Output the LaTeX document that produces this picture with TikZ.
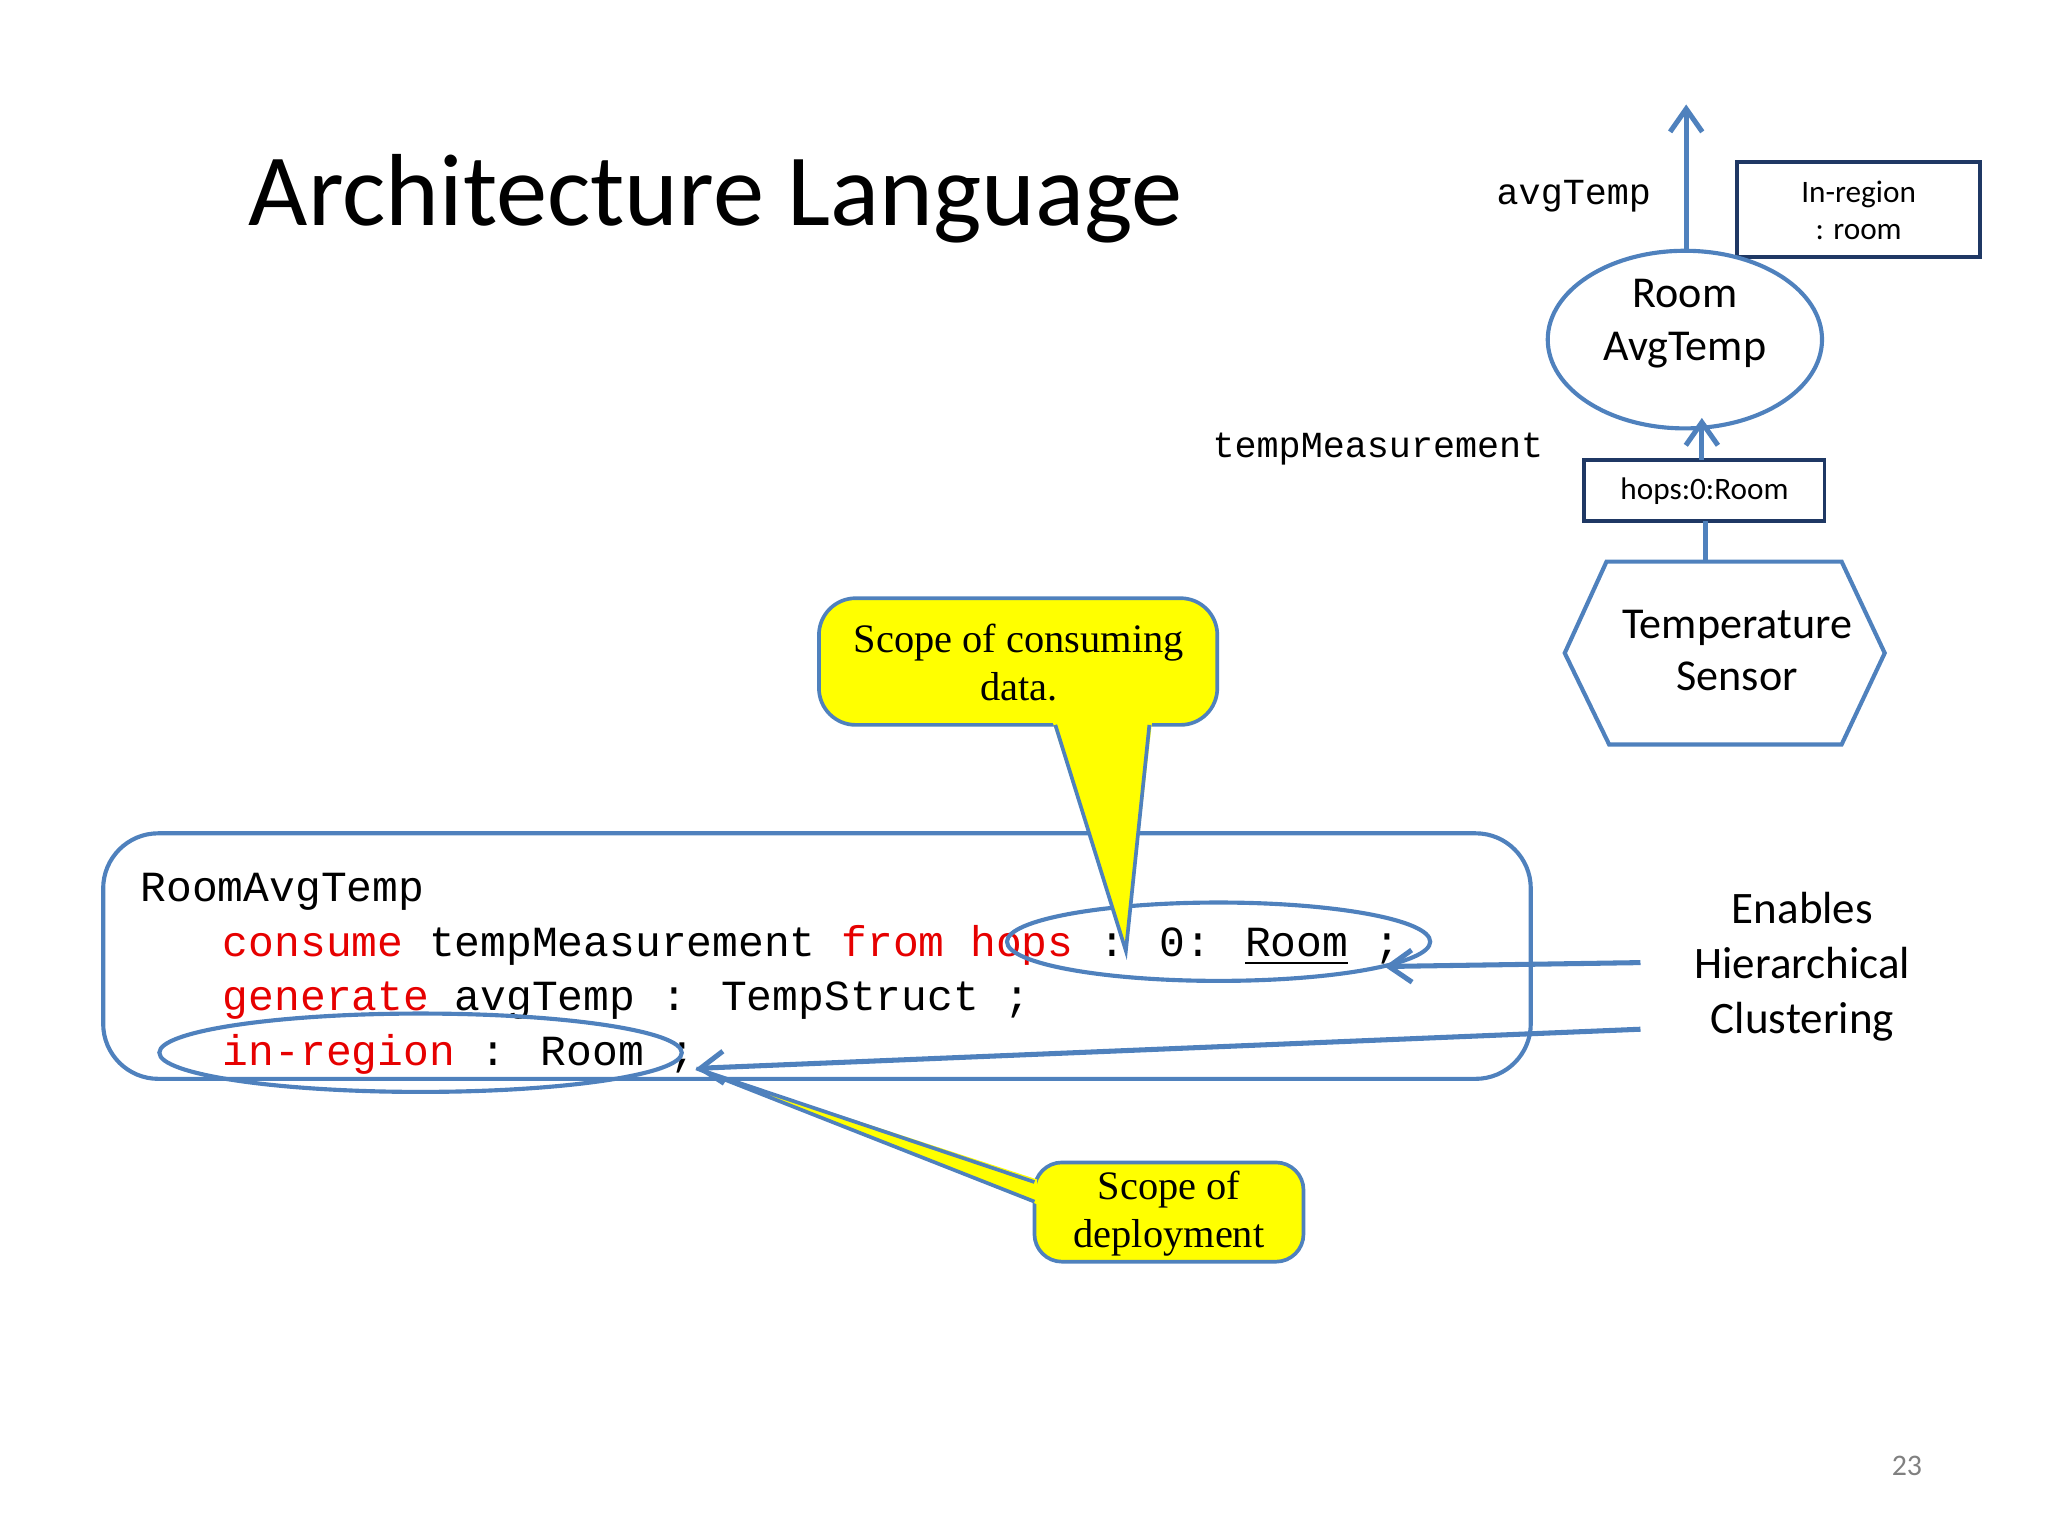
\documentclass[tikz,border=0pt]{standalone}
\usepackage{fontspec}
\setmainfont{Carlito}
\newfontfamily\mono{Liberation Mono}
\newfontfamily\serif{Liberation Serif}
\usetikzlibrary{arrows.meta,shapes.geometric}
\definecolor{ablue}{RGB}{79,129,189}
\definecolor{dblue}{RGB}{31,56,100}
\definecolor{kred}{RGB}{230,0,0}
\definecolor{cyel}{RGB}{255,255,0}
\tikzset{
 conn/.style={ablue,line width=1.1pt},
 arr/.style={conn,-{Straight Barb[length=5pt,width=7pt]}},
 frame/.style={dblue,line width=0.8pt},
 small/.style={font=\fontsize{6.8}{8}\selectfont,align=center},
 big/.style={font=\fontsize{9.6}{11.5}\selectfont,align=center},
 code/.style={anchor=base west,font=\mono\fontsize{9.35}{11}\selectfont,inner sep=0},
 callout/.style={fill=cyel,draw=ablue,line width=0.8pt},
 ctext/.style={font=\serif\fontsize{8.8}{10.5}\selectfont,align=center},
}
\newcommand{\kw}[1]{\textcolor{kred}{#1}}
\begin{document}
\begin{tikzpicture}[x=0.01cm,y=-0.01cm]
\useasboundingbox (0,0) rectangle (1568,1176);
\node[font=\fontsize{22.3}{26}\selectfont] (title) at (548,152) {Architecture Language};
% right diagram
\node[font=\mono\fontsize{8}{9}\selectfont] (avg) at (1205,150) {avgTemp};
\draw[frame] (1330,124) rectangle (1516,197);
\node[small] (inrt) at (1423,161) {In-region\\: room};
\draw[ablue,line width=0.9pt] (1290,260) ellipse (105 and 68);
\node[big] (roomt) at (1290,248) {Room\\AvgTemp};
\coordinate (rtop) at (1291,192);
\coordinate (atop) at (1291,80);
\draw[arr] (rtop) -- (atop);
\node[font=\mono\fontsize{8}{9}\selectfont] (tm) at (1055,344) {tempMeasurement};
\draw[frame] (1213,352) rectangle (1397,399);
\node[small] (hops) at (1305,376) {hops:0:Room};
\coordinate (htop) at (1303,352);
\coordinate (rbot) at (1303,320);
\draw[arr] (htop) -- (rbot);
\coordinate (hbot) at (1306,399);
\coordinate (stop) at (1306,430);
\draw[conn] (hbot) -- (stop);
\draw[ablue,line width=0.9pt] (1230,430) -- (1410,430) -- (1443,500) -- (1410,570) -- (1232,570) -- (1198,500) -- cycle;
\node[big] (sensor) at (1330,498) {Temperature\\Sensor};
% code box
\draw[ablue,line width=0.9pt,rounded corners=12pt] (79,638) rectangle (1172,826);
\node[code] (c1) at (107,690) {RoomAvgTemp};
\node[code] (c2) at (170,732) {\kw{consume} tempMeasurement \kw{from hops} : 0: \underline{Room} ;};
\node[code] (c3) at (170,774) {\kw{generate} avgTemp : TempStruct ;};
\node[code] (c4) at (170,816) {\kw{in-region} : Room ;};
\draw[ablue,line width=0.9pt] (933,721) ellipse (162 and 30);
\draw[ablue,line width=0.9pt] (322,806) ellipse (200 and 30);
% callout 1
\draw[callout,rounded corners=8pt] (627,458) rectangle (932,555);
\fill[cyel] (806,553) -- (882,553) -- (862,728) -- cycle;
\draw[ablue,line width=0.8pt] (808,555) -- (862,728) -- (880,555);
\node[ctext] (cal1) at (780,507) {Scope of consuming\\data.};
% callout 2
\draw[callout,rounded corners=6pt] (792,890) rectangle (998,966);
\fill[cyel] (794,903) -- (794,922) -- (533,818) -- cycle;
\draw[ablue,line width=0.8pt] (792,905) -- (533,818) -- (792,920);
\node[ctext] (cal2) at (895,929) {Scope of\\deployment};
% enables
\node[font=\fontsize{9.8}{12}\selectfont,align=center] (en) at (1380,740) {Enables\\Hierarchical\\Clustering};
\coordinate (e1) at (1256,737);
\coordinate (e1t) at (1060,740);
\coordinate (e2) at (1256,788);
\coordinate (e2t) at (533,818);
\draw[arr] (e1) -- (e1t);
\draw[arr] (e2) -- (e2t);
\node[text=gray,font=\fontsize{6.5}{8}\selectfont] (pg) at (1460,1122) {23};
\end{tikzpicture}
\end{document}
